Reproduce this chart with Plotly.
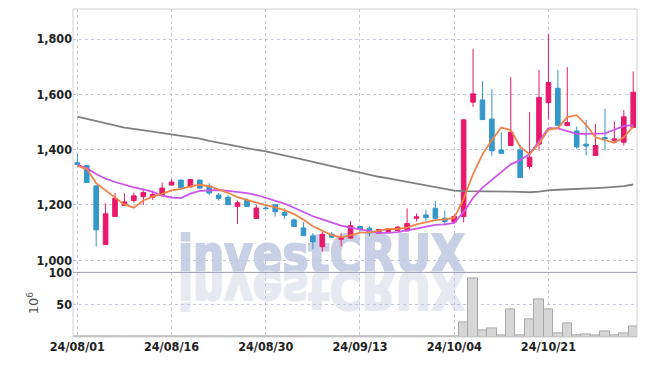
import base64
import plotly.graph_objects as go
from plotly.subplots import make_subplots

dates = (
    ["24/08/%02d" % d for d in [1, 2, 5, 6, 7, 8, 9, 12, 13, 14, 16, 19, 20, 21, 22, 23, 26, 27, 28, 29, 30]]
    + ["24/09/%02d" % d for d in [2, 3, 4, 5, 6, 9, 10, 11, 12, 13, 19, 20, 23, 24, 25, 26, 27, 30]]
    + ["24/10/%02d" % d for d in [2, 4, 7, 8, 10, 11, 14, 15, 16, 17, 18, 21, 22, 23, 24, 25, 28, 29, 30, 31]]
    + ["24/11/01"]
)

opens = [1353, 1343, 1269, 1057, 1158, 1198, 1216, 1230, 1227, 1236,
         1272, 1290, 1265, 1290, 1269, 1236, 1228, 1194, 1216, 1151,
         1189, 1201, 1173, 1146, 1117, 1088, 1049, 1094, 1076, 1080,
         1122, 1116, 1098, 1104, 1107, 1106, 1152, 1164, 1188, 1152,
         1138, 1158, 1572, 1580, 1511, 1399, 1415, 1399, 1339, 1420,
         1570, 1622, 1487, 1468, 1420, 1379, 1444, 1434, 1427, 1480]
highs = [1385, 1345, 1272, 1206, 1243, 1243, 1245, 1257, 1252, 1281,
         1293, 1291, 1294, 1292, 1279, 1243, 1235, 1216, 1224, 1201,
         1199, 1202, 1188, 1151, 1138, 1098, 1104, 1103, 1098, 1142,
         1123, 1123, 1113, 1116, 1122, 1188, 1169, 1183, 1215, 1179,
         1164, 1510, 1765, 1649, 1620, 1463, 1663, 1417, 1536, 1689,
         1818, 1689, 1699, 1484, 1508, 1493, 1548, 1502, 1543, 1683]
lows = [1344, 1280, 1049, 1055, 1157, 1197, 1208, 1200, 1218, 1230,
        1271, 1258, 1264, 1258, 1236, 1216, 1200, 1131, 1193, 1150,
        1180, 1158, 1148, 1120, 1088, 1040, 1031, 1082, 1050, 1078,
        1103, 1087, 1097, 1102, 1105, 1105, 1140, 1142, 1150, 1125,
        1135, 1137, 1555, 1507, 1378, 1385, 1413, 1297, 1330, 1396,
        1510, 1485, 1486, 1403, 1379, 1378, 1396, 1424, 1415, 1478]
closes = [1346, 1281, 1110, 1168, 1224, 1211, 1233, 1245, 1238, 1261,
          1283, 1263, 1292, 1261, 1243, 1223, 1201, 1208, 1194, 1189,
          1187, 1175, 1162, 1122, 1089, 1066, 1094, 1083, 1083, 1125,
          1113, 1099, 1111, 1114, 1120, 1133, 1157, 1154, 1152, 1140,
          1158, 1508, 1602, 1509, 1396, 1386, 1463, 1299, 1373, 1589,
          1643, 1487, 1498, 1410, 1413, 1415, 1440, 1439, 1519, 1608]

ma_short = [1341, 1330, 1279, 1254, 1228, 1201, 1190, 1216, 1230, 1240,
            1253, 1258, 1267, 1273, 1268, 1256, 1244, 1228, 1218, 1208,
            1199, 1191, 1181, 1167, 1147, 1123, 1107, 1091, 1083, 1090,
            1100, 1101, 1106, 1113, 1113, 1118, 1130, 1138, 1145, 1148,
            1153, 1222, 1312, 1383, 1435, 1480, 1471, 1411, 1383, 1422,
            1473, 1478, 1518, 1525, 1490, 1445, 1435, 1425, 1445, 1484]
ma_mid = [1345, 1333, 1312, 1295, 1283, 1273, 1264, 1256, 1247, 1234,
          1227, 1225, 1241, 1251, 1253, 1254, 1251, 1247, 1243, 1236,
          1226, 1217, 1205, 1190, 1175, 1159, 1148, 1136, 1125, 1118,
          1111, 1104, 1099, 1099, 1102, 1108, 1114, 1121, 1128, 1130,
          1135, 1174, 1226, 1263, 1291, 1316, 1347, 1362, 1384, 1430,
          1478, 1477, 1467, 1457, 1457, 1459, 1459, 1472, 1486, 1489]
ma_long = [1520, 1512, 1502, 1494, 1486, 1480, 1475, 1470, 1465, 1460,
           1456, 1452, 1447, 1440, 1432, 1425, 1418, 1411, 1405, 1399,
           1394, 1387, 1380, 1372, 1364, 1356, 1348, 1340, 1332, 1324,
           1316, 1309, 1302, 1296, 1290, 1283, 1277, 1271, 1265, 1259,
           1252, 1250, 1250, 1249, 1249, 1248, 1248, 1247, 1246, 1248,
           1253, 1255, 1256, 1258, 1260, 1261, 1263, 1265, 1268, 1274]

volume = [0.5, 0.4, 0.6, 0.5, 0.4, 0.3, 0.3, 0.4, 0.3, 0.4,
          0.4, 0.3, 0.3, 0.3, 0.3, 0.3, 0.3, 0.4, 0.3, 0.3,
          0.2, 0.3, 0.3, 0.3, 0.4, 0.4, 0.4, 0.3, 0.3, 0.4,
          0.3, 0.3, 0.2, 0.2, 0.2, 0.4, 0.3, 0.3, 0.4, 0.3,
          0.4, 22.6, 90, 10.3, 13.4, 2.6, 42.6, 2.6, 27, 58,
          42.6, 5.7, 21, 2.6, 4, 2.6, 8.7, 2.6, 5.7, 16.5]

price_ticks = [1000, 1200, 1400, 1600, 1800]
volume_ticks = [50, 100]
date_ticks = ["24/08/01", "24/08/16", "24/08/30", "24/09/13", "24/10/04", "24/10/21"]

UP = "#E8196B"
DOWN = "#3497C9"
FONT = "DejaVu Sans Condensed, sans-serif"

fig = make_subplots(rows=2, cols=1, shared_xaxes=True, vertical_spacing=0,
                    row_heights=[0.803, 0.197])

fig.add_trace(go.Candlestick(
    x=dates, open=opens, high=highs, low=lows, close=closes,
    increasing=dict(line=dict(color=UP, width=1), fillcolor=UP),
    decreasing=dict(line=dict(color=DOWN, width=1), fillcolor=DOWN),
    whiskerwidth=0, hoverinfo="skip"), row=1, col=1)

fig.add_trace(go.Scatter(x=dates, y=ma_long, mode="lines",
                         line=dict(color="#808080", width=1.8)), row=1, col=1)
fig.add_trace(go.Scatter(x=dates, y=ma_mid, mode="lines",
                         line=dict(color="#CC55EC", width=1.8)), row=1, col=1)
fig.add_trace(go.Scatter(x=dates, y=ma_short, mode="lines",
                         line=dict(color="#EE8449", width=1.8)), row=1, col=1)

fig.add_trace(go.Bar(x=dates, y=volume, marker=dict(color="#D6D6D6",
                     line=dict(color="#A8A8A8", width=1))), row=2, col=1)

grid = dict(showgrid=True, gridcolor="#C4C7DC", griddash="dot", gridwidth=1,
            zeroline=False, showline=False, automargin=False)
tickfont = dict(family=FONT, size=12.5, color="#222222", weight="bold")

fig.update_xaxes(type="category", range=[-0.46, 59.4], tickvals=date_ticks,
                 ticktext=date_ticks, tickfont=tickfont, ticks="",
                 rangeslider=dict(visible=False), **grid)
fig.update_xaxes(showticklabels=False, row=1, col=1)
fig.update_yaxes(range=[956, 1909], tickvals=price_ticks, tickformat=",",
                 tickfont=tickfont, ticks="", row=1, col=1, **grid)
fig.update_yaxes(range=[0, 100], tickvals=volume_ticks, tickfont=tickfont,
                 ticks="", row=2, col=1, **grid)

wm_font = "DejaVu Sans Condensed, sans-serif"
svg = (
    '<svg xmlns="http://www.w3.org/2000/svg" width="290" height="90" viewBox="0 0 290 90">'
    f'<text x="0" y="42" font-family="{wm_font}" font-weight="bold" font-size="52" '
    'fill="#C9D0E6" stroke="#C9D0E6" stroke-width="2" textLength="287" '
    'lengthAdjust="spacingAndGlyphs">investCRUX</text>'
    '<g transform="translate(0,84) scale(1,-1)">'
    f'<text x="0" y="42" font-family="{wm_font}" font-weight="bold" font-size="52" '
    'fill="#E7E9F1" stroke="#E7E9F1" stroke-width="2" textLength="287" '
    'lengthAdjust="spacingAndGlyphs">investCRUX</text>'
    '</g></svg>'
)
src = "data:image/svg+xml;base64," + base64.b64encode(svg.encode()).decode()

# the page body has an 8px margin, so the figure itself starts at (8, 8)
fig.update_layout(
    width=639, height=358,
    margin=dict(l=65, r=9.7, t=1.3, b=29.3, autoexpand=False),
    paper_bgcolor="white", plot_bgcolor="white",
    showlegend=False, bargap=0, boxgap=0.3,
    images=[dict(source=src, xref="paper", yref="paper", x=0.186, y=0.326,
                 sizex=0.514, sizey=0.275, xanchor="left", yanchor="top",
                 sizing="stretch", layer="below")],
    shapes=[
        dict(type="rect", xref="paper", yref="paper", x0=0, x1=1, y0=0, y1=1,
             line=dict(color="#D2D2D2", width=1)),
        dict(type="line", xref="paper", yref="paper", x0=0, x1=1, y0=0.197, y1=0.197,
             line=dict(color="#9C9CAE", width=1)),
    ],
    annotations=[dict(text="10<sup>6</sup>", xref="paper", yref="paper",
                      x=-0.071, y=0.106, xanchor="center", yanchor="middle",
                      textangle=-90, showarrow=False,
                      font=dict(family="DejaVu Sans, sans-serif", size=13, color="#555555"))],
)

fig.write_html("out.html")
